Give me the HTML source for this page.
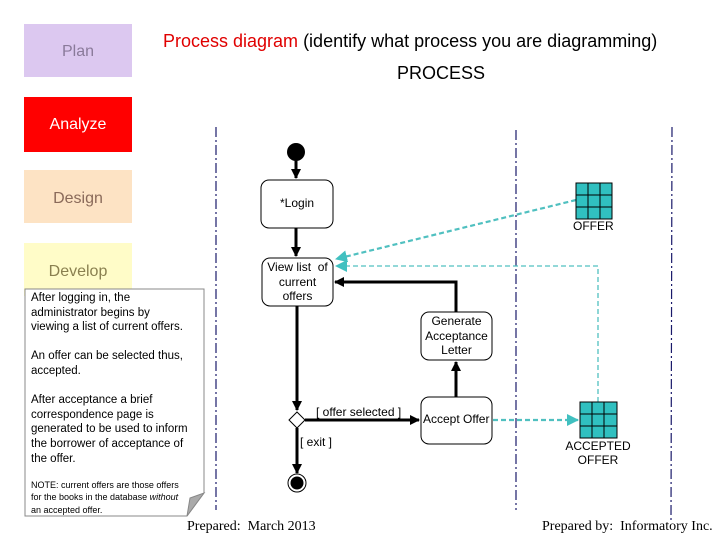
<!DOCTYPE html>
<html><head><meta charset="utf-8"><style>
body{margin:0;background:#fff;width:720px;height:540px;overflow:hidden;position:relative;font-family:"Liberation Sans",sans-serif}
.b{position:absolute;box-sizing:border-box;display:flex;align-items:center;justify-content:center;text-align:center}
.t{position:absolute;white-space:nowrap}
</style></head><body>
<div class="b" style="left:24px;top:24px;width:108px;height:53px;background:#dcc8f0;color:#8a7a9a;font-size:16px;padding-top:2px">Plan</div>
<div class="b" style="left:24px;top:97px;width:108px;height:55px;background:#ff0000;color:#fff;font-size:16px">Analyze</div>
<div class="b" style="left:24px;top:170px;width:108px;height:53px;background:#fde3c4;color:#8a6a5a;font-size:16px;align-items:flex-start;padding-top:20px">Design</div>
<div class="b" style="left:24px;top:243px;width:108px;height:53px;background:#fffcc8;color:#8a8050;font-size:16px;align-items:flex-start;padding-top:20px">Develop</div>
<div class="t" style="left:163px;top:31px;font-size:18px"><span style="color:#e00000">Process diagram</span> (identify what process you are diagramming)</div>
<div class="t" style="left:397px;top:63px;font-size:18px">PROCESS</div>
<svg width="720" height="540" style="position:absolute;left:0;top:0">
<defs>
<marker id="a" markerWidth="10" markerHeight="10" refX="9" refY="5" orient="auto" markerUnits="userSpaceOnUse"><path d="M0,0L10,5L0,10z" fill="#000"/></marker>
<marker id="c" markerWidth="12" markerHeight="12" refX="11" refY="6" orient="auto" markerUnits="userSpaceOnUse"><path d="M0,0L12,6L0,12z" fill="#40c0c0"/></marker>
</defs>
<g stroke="#1a1a6a" stroke-width="1.2" stroke-dasharray="10,3,2,3">
<line x1="216" y1="127" x2="216" y2="510"/><line x1="516" y1="130" x2="516" y2="510"/><line x1="672" y1="127" x2="671" y2="520"/></g>
<path d="M25,289H204V493L187,516H25Z" fill="#fff" stroke="#888"/>
<path d="M187,516L190,498L204,493Z" fill="#aaa" stroke="#888"/>
<circle cx="296" cy="152" r="9" fill="#000"/>
<g stroke="#000" stroke-width="3" fill="none">
<line x1="296" y1="161" x2="296" y2="178" marker-end="url(#a)"/>
<line x1="296" y1="228" x2="296" y2="256" marker-end="url(#a)"/>
<line x1="297" y1="306" x2="297" y2="410" marker-end="url(#a)"/>
<line x1="305" y1="420" x2="419" y2="420" marker-end="url(#a)"/>
<line x1="297" y1="428" x2="297" y2="473" marker-end="url(#a)"/>
<line x1="456" y1="397" x2="456" y2="362" marker-end="url(#a)"/>
<polyline points="456,312 456,282 335,282" marker-end="url(#a)"/>
</g>
<rect x="261" y="180" width="72" height="48" rx="8" fill="#fff" stroke="#000"/>
<rect x="262" y="258" width="71" height="48" rx="8" fill="#fff" stroke="#000"/>
<rect x="421" y="312" width="71" height="48" rx="8" fill="#fff" stroke="#000"/>
<rect x="421" y="397" width="71" height="47" rx="8" fill="#fff" stroke="#000"/>
<path d="M297,412L305,420L297,428L289,420Z" fill="#fff" stroke="#000"/>
<circle cx="297" cy="483" r="9" fill="#fff" stroke="#000"/><circle cx="297" cy="483" r="6.5" fill="#000"/>
<g stroke="#50c0c0" stroke-width="2.2" stroke-dasharray="5,3" fill="none">
<line x1="576" y1="200" x2="336" y2="259" marker-end="url(#c)"/>
<line x1="493" y1="420" x2="578" y2="420" marker-end="url(#c)"/>
</g>
<g stroke="#50c0c0" stroke-width="1.3" stroke-dasharray="5,3" fill="none">
<polyline points="598,402 598,266 336,266" marker-end="url(#c)"/>
</g>
<g fill="#30c0c0" stroke="#000"><rect x="576" y="183" width="36" height="36"/><rect x="580" y="402" width="37" height="36"/></g>
<g stroke="#000"><path d="M588,183V219M600,183V219M576,195H612M576,207H612"/><path d="M592,402V438M604,402V438M580,414H617M580,426H617"/></g>
</svg>
<div class="t" style="left:280px;top:196px;font-size:12px">*Login</div>
<div class="b" style="left:262px;top:260px;width:71px;font-size:12px;line-height:14.5px">View list &nbsp;of<br>current<br>offers</div>
<div class="b" style="left:421px;top:314px;width:71px;font-size:12px;line-height:14.5px">Generate<br>Acceptance<br>Letter</div>
<div class="t" style="left:423px;top:412px;font-size:12px">Accept Offer</div>
<div class="t" style="left:316px;top:405px;font-size:12px">[ offer selected ]</div>
<div class="t" style="left:300px;top:435px;font-size:12px">[ exit ]</div>
<div class="t" style="left:573px;top:219px;font-size:12px">OFFER</div>
<div class="b" style="left:558px;top:439px;width:80px;font-size:12px;line-height:14px">ACCEPTED<br>OFFER</div>
<div class="t" style="left:31px;top:291px;font-size:11.5px;line-height:14.6px">After logging in, the<br>administrator begins by<br>viewing a list of current offers.<br><br>An offer can be selected thus,<br>accepted.<br><br>After acceptance a brief<br>correspondence page is<br>generated to be used to inform<br>the borrower of acceptance of<br>the offer.</div>
<div class="t" style="left:31px;top:479px;font-size:9px;line-height:12.3px">NOTE: current offers are those offers<br>for the books in the database <i>without</i><br>an accepted offer.</div>
<div class="t" style="left:187px;top:519px;font-family:'Liberation Serif',serif;font-size:14px">Prepared:&nbsp; March 2013</div>
<div class="t" style="left:542px;top:519px;font-family:'Liberation Serif',serif;font-size:14px">Prepared by:&nbsp; Informatory Inc.</div>
</body></html>
